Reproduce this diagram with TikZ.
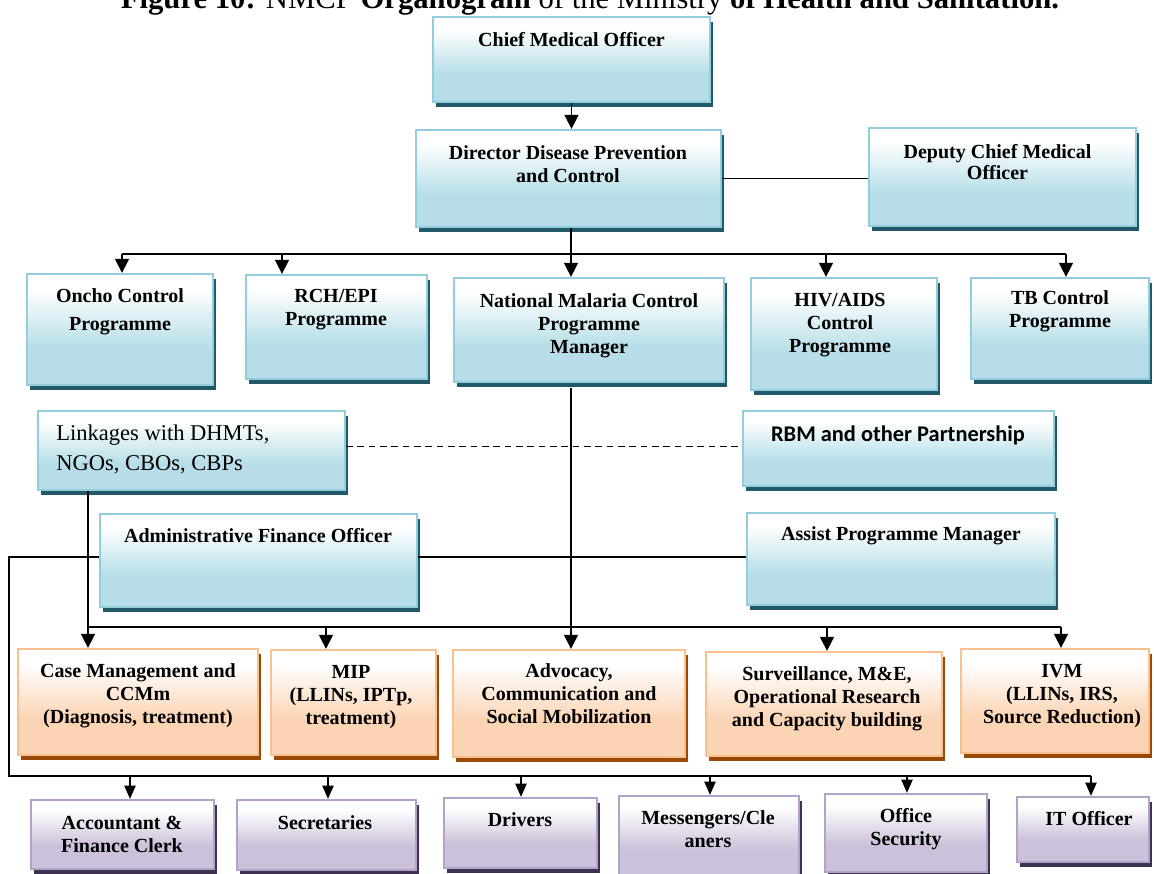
\documentclass[tikz,border=0pt]{standalone}
\usepackage{fontspec}
\setmainfont{Liberation Serif}
\newfontfamily\calib{Carlito}
\usetikzlibrary{shadows,arrows.meta}

\definecolor{bfill}{HTML}{B7DEE8}
\definecolor{bline}{HTML}{92CDDC}
\definecolor{bshad}{HTML}{215968}
\definecolor{ofill}{HTML}{FBD4B4}
\definecolor{oline}{HTML}{FAC08F}
\definecolor{oshad}{HTML}{984807}
\definecolor{pfill}{HTML}{CCC1DA}
\definecolor{pline}{HTML}{B3A2C7}
\definecolor{pshad}{HTML}{3F3151}

\pgfdeclareverticalshading{bgrad}{100bp}{color(0bp)=(bfill); color(42bp)=(bfill); color(68bp)=(white); color(100bp)=(white)}
\pgfdeclareverticalshading{ograd}{100bp}{color(0bp)=(ofill); color(42bp)=(ofill); color(68bp)=(white); color(100bp)=(white)}
\pgfdeclareverticalshading{pgrad}{100bp}{color(0bp)=(pfill); color(42bp)=(pfill); color(68bp)=(white); color(100bp)=(white)}

\tikzset{
  x=0.75pt, y=-0.75pt,
  box/.style={rectangle, inner sep=0pt, line width=1.7pt},
  bluebox/.style={box, draw=bline, shading=bgrad,
    drop shadow={shadow xshift=1.9pt, shadow yshift=-3.6pt, opacity=1, fill=bshad}},
  orbox/.style={box, draw=oline, shading=ograd,
    drop shadow={shadow xshift=1.9pt, shadow yshift=-3.6pt, opacity=1, fill=oshad}},
  pubox/.style={box, draw=pline, shading=pgrad,
    drop shadow={shadow xshift=1.9pt, shadow yshift=-3.6pt, opacity=1, fill=pshad}},
  lbl/.style={anchor=north, align=center, inner sep=0pt,
    font=\fontsize{15}{17.25}\selectfont\bfseries},
  conn/.style={line width=1.1pt, black},
  arr/.style={conn, -{Triangle[width=10.5pt,length=10.5pt]}},
  arrs/.style={conn, -{Triangle[width=8.5pt,length=10pt]}},
}

\newcommand\mkbox[6]{\node[#2, minimum width={(#5-#3-2)*0.75pt}, minimum height={(#6-#4-2)*0.75pt}] (#1) at ({(#3+#5)/2},{(#4+#6)/2}) {};}
\newcommand\mktxt[5][lbl]{\node[#1] (#2) at (#3,{#4-9.5}) {\strut #5};}

\begin{document}
\begin{tikzpicture}
\useasboundingbox (0,0) rectangle (1154,874);
\clip (0,0) rectangle (1154,874);

% title (partly cut off at the top, as in the reference)
\node[anchor=base, inner sep=0pt, font=\fontsize{23}{27}\selectfont] (title) at (590,8.5)
  {\textbf{Figure 10:} NMCP \textbf{Organogram} of the Ministry \textbf{of Health and Sanitation.}};

% blue boxes
\mkbox{cmo}{bluebox}{432}{16}{711}{103}
\mkbox{ddpc}{bluebox}{415}{129}{722}{228}
\mkbox{deputy}{bluebox}{868}{127}{1137}{227}
\mkbox{oncho}{bluebox}{26}{273}{214}{386}
\mkbox{rch}{bluebox}{245}{274}{428}{380}
\mkbox{nmcp}{bluebox}{453}{277}{725}{383}
\mkbox{hiv}{bluebox}{750}{277}{938}{391}
\mkbox{tb}{bluebox}{970}{277}{1150}{380}
\mkbox{link}{bluebox}{37}{410}{346}{491}
\mkbox{rbm}{bluebox}{742}{410}{1055}{487}
\mkbox{afo}{bluebox}{99}{513}{418}{608}
\mkbox{apm}{bluebox}{746}{512}{1056}{606}

% orange boxes
\mkbox{case}{orbox}{17}{648}{259}{756}
\mkbox{mip}{orbox}{270}{649}{437}{756}
\mkbox{adv}{orbox}{452}{649}{686}{758}
\mkbox{surv}{orbox}{705}{651}{943}{757}
\mkbox{ivm}{orbox}{960}{648}{1150}{754}

% purple boxes
\mkbox{acc}{pubox}{30}{799}{215}{870}
\mkbox{sec}{pubox}{236}{799}{417}{871}
\mkbox{drv}{pubox}{443}{797}{598}{869}
\mkbox{mes}{pubox}{618}{795}{800}{878}
\mkbox{osec}{pubox}{824}{793}{988}{873}
\mkbox{it}{pubox}{1016}{796}{1150}{863}

% texts
\mktxt{cmot}{571.5}{40}{Chief Medical Officer}
\mktxt{ddpct}{568}{153}{Director Disease Prevention\\and Control}
\mktxt{deputyt}{997.5}{152}{Deputy Chief Medical\\[-1.5pt]Officer}
\mktxt{onchot}{120}{296}{Oncho Control\\[3.4pt]Programme}
\mktxt{rcht}{336}{296}{RCH/EPI\\Programme}
\mktxt{nmcpt}{589}{301}{National Malaria Control\\Programme\\Manager}
\mktxt{hivt}{840}{300}{HIV/AIDS\\Control\\Programme}
\mktxt{tbt}{1060}{298}{TB Control\\Programme}
\node[anchor=north west, align=left, inner sep=0pt, font=\fontsize{16.9}{22.5}\selectfont] (linkt) at (56,419.4)
  {\strut Linkages with DHMTs,\\NGOs, CBOs, CBPs};
\node[anchor=north, inner sep=0pt, font=\fontsize{16.8}{20}\selectfont\calib\bfseries] (rbmt) at (898,422.7)
  {\strut RBM and other Partnership};
\mktxt{afot}{258}{536}{Administrative Finance Officer}
\mktxt{apmt}{901}{534}{Assist Programme Manager}

\mktxt{caset}{138}{671}{Case Management and\\CCMm\\(Diagnosis, treatment)}
\mktxt{mipt}{351}{672}{MIP\\(LLINs, IPTp,\\treatment)}
\mktxt{advt}{569}{671}{Advocacy,\\Communication and\\Social Mobilization}
\mktxt{survt}{827}{674}{Surveillance, M\&E,\\Operational Research\\and Capacity building}
\mktxt{ivmt}{1062}{671}{IVM\\(LLINs, IRS,\\Source Reduction)}

\mktxt{acct}{122}{823}{Accountant \&\\Finance Clerk}
\mktxt{sect}{325}{823}{Secretaries}
\mktxt{drvt}{520}{820}{Drivers}
\mktxt{mest}{708}{818}{Messengers/Cle\\aners}
\mktxt{osect}{906}{816}{Office\\Security}
\mktxt{itt}{1089}{819}{IT Officer}

% connectors: top
\draw[arr] (cmo.south) -- (cmo.south |- ddpc.north);
\draw[conn] (ddpc.east) -- (ddpc.east -| deputy.west);
\coordinate (bA) at (122,254);
\coordinate (bB) at (1066,254);
\coordinate (bC) at (571,254);
\draw[conn] (bC |- ddpc.south) -- (bC);
\draw[conn] (bA) -- (bB);
\foreach \n/\x in {oncho/122, rch/282, nmcp/571, hiv/826, tb/1066}{
  \coordinate (t\n) at (\x,254);
  \draw[arr] (t\n) -- (t\n |- \n.north);
}

% dashed partnership link
\coordinate (d0) at ([yshift=3pt]link.east);
\draw[conn, dash pattern=on 5pt off 3.5pt] (d0) -- (d0 -| rbm.west);

% orange bus
\coordinate (oA) at (88,627);
\coordinate (oB) at (1061,627);
\draw[conn] (link.south -| oA) -- (oA);
\draw[conn] (oA) -- (oB);
\coordinate (nm0) at ([yshift=-4pt]nmcp.south);
\coordinate (oadv) at (571,627);
\draw[conn] (nm0 -| oadv) -- (oadv);
\foreach \n/\x in {case/88, mip/326, adv/571, surv/827, ivm/1061}{
  \coordinate (o\n) at (\x,627);
  \draw[arr] (o\n) -- (o\n |- \n.north);
}

% admin lines and purple bus
\coordinate (hl) at (0,557);
\draw[conn] (afo.east |- hl) -- (apm.west |- hl);
\coordinate (L1) at (9,557);
\coordinate (L2) at (9,776);
\coordinate (L3) at (1091,776);
\draw[conn] (afo.west |- hl) -- (L1) -- (L2) -- (L3);
\foreach \n/\x in {acc/130, sec/328, drv/521, mes/710, osec/907, it/1091}{
  \coordinate (p\n) at (\x,776);
  \draw[arrs] (p\n) -- (p\n |- \n.north);
}
\end{tikzpicture}
\end{document}
